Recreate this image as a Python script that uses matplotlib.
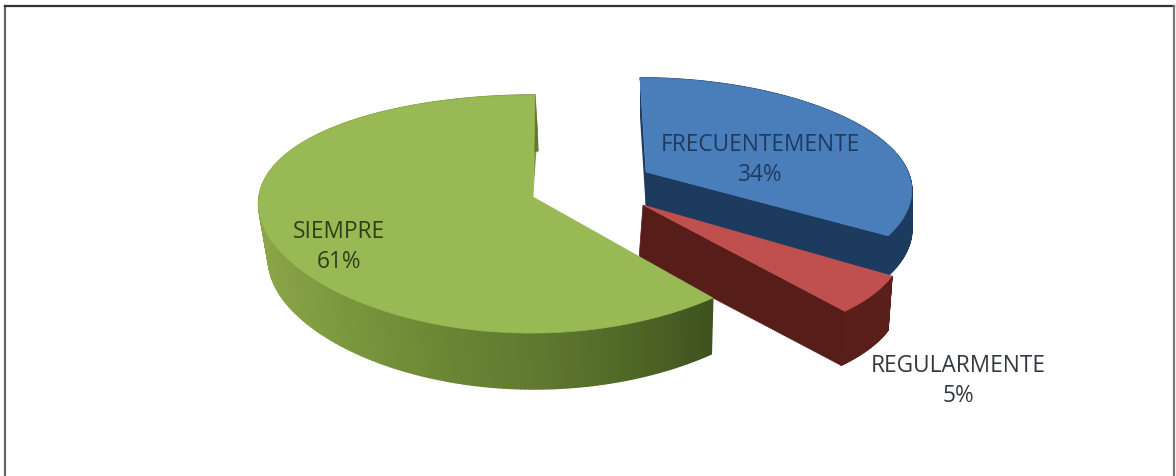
import numpy as np
import matplotlib
matplotlib.use("Agg")
import matplotlib.pyplot as plt
from matplotlib.patches import Polygon
from matplotlib.colors import LinearSegmentedColormap

categories = ["FRECUENTEMENTE", "REGULARMENTE", "SIEMPRE"]
values = [34, 5, 61]
tick_labels = ["34%", "5%", "61%"]

# Drawing style for each slice (projection of the tilted disc to pixels)
top_colors = ["#4a7ebb", "#c0504d", "#98b954"]
wall_colors = [["#1d3a5f", "#1d3a5f"], ["#5a1f1a", "#5a1f1a"],
               ["#8ba648", "#7a963d", "#6b8735", "#617a30", "#526a28", "#3f531e"]]
cut_colors = ["#1d3a5f", "#561d19", "#3f531e"]
proj = [
    dict(ax=646, ay=172, rx=262, ry=109, kx=.15, ky=.158, sh=-6, dx=8, dy=39, rs=.97),
    dict(ax=643, ay=205, rx=245, ry=122, kx=.38, ky=.15, sh=0, dx=-4, dy=54, rs=1.0),
    dict(ax=533, ay=197, rx=274, ry=116.6, kx=.05, ky=1/7, sh=2, dx=3, dy=56, rs=.975),
]
label_pos = [(760, 160), (958, 381), (339, 247)]
label_colors = ["#1f3a5f", "#33393f", "#2c4018"]

fig = plt.figure(figsize=(11.76, 4.76), dpi=100, facecolor="white")
ax = fig.add_axes([0, 0, 1, 1])
ax.set_xlim(0, 1176)
ax.set_ylim(476, 0)
ax.axis("off")


def project(p, theta, depth=False):
    X, Y = np.sin(theta), np.cos(theta)
    rs = p["rs"] if depth else 1.0
    x = p["ax"] + rs * p["rx"] * X * (1 - p["kx"] * Y) + p["sh"] * Y
    y = p["ay"] - p["ry"] * Y / (1 + p["ky"] * Y)
    if depth:
        x, y = x + p["dx"], y + p["dy"]
    return x, y


fractions = np.cumsum([0] + values) / sum(values) * 2 * np.pi
# drawn back to front: blue, red, green
for i in range(3):
    p = proj[i]
    t = np.linspace(fractions[i], fractions[i + 1], 240)
    xt, yt = project(p, t)
    xb, yb = project(p, t, depth=True)
    ax0, ay0 = p["ax"], p["ay"]
    # back sliver walls at the first edge
    if i == 0:
        ax.add_patch(Polygon([(xt[0], yt[0]), (xt[0], yb[0]), (ax0, ay0 + p["dy"]), (ax0, ay0)],
                             fc=cut_colors[i], ec="none", zorder=i))
    if i == 2:
        ax.add_patch(Polygon([(xt[-1], yt[-1]), (xt[-1] + 3, yt[-1] + 35), (ax0, ay0)],
                             fc="#7f9b42", ec="none", zorder=i))
    # cut face at the last edge of blue, and of red
    if i == 0 or i == 1:
        bx = ax0 if i == 0 else ax0 + p["dx"]
        ax.add_patch(Polygon([(ax0, ay0), (xt[-1], yt[-1]), (xb[-1], yb[-1]), (bx, ay0 + p["dy"])],
                             fc=cut_colors[i], ec=cut_colors[i], lw=.5, zorder=i))
    # curved outer wall
    cmap = LinearSegmentedColormap.from_list("w", wall_colors[i])
    lo, hi = min(xt.min(), xb.min()), max(xt.max(), xb.max())
    for j in range(len(t) - 1):
        c = cmap((xt[j] - lo) / (hi - lo))
        ax.add_patch(Polygon([(xt[j], yt[j]), (xt[j + 1], yt[j + 1]), (xb[j + 1], yb[j + 1]), (xb[j], yb[j])],
                             fc=c, ec=c, lw=1.0, zorder=i))
    # top face
    ax.add_patch(Polygon(np.vstack([[(ax0, ay0)], np.column_stack([xt, yt])]),
                         fc=top_colors[i], ec=top_colors[i], lw=.5, zorder=i + .5))
    lx, ly = label_pos[i]
    ax.text(lx, ly, f"{categories[i]}\n{tick_labels[i]}", ha="center", va="center",
            family="Open Sans", fontsize=16.3, color=label_colors[i], linespacing=1.3, zorder=5)

# outer frame
ax.plot([5, 5], [476, 6], color="#666666", lw=1.6, zorder=6)
ax.plot([5, 1174], [6, 6], color="#333333", lw=1.6, zorder=6)
ax.plot([1174, 1174], [6, 476], color="#777777", lw=1.6, zorder=6)

fig.savefig("out.png", dpi=100)
